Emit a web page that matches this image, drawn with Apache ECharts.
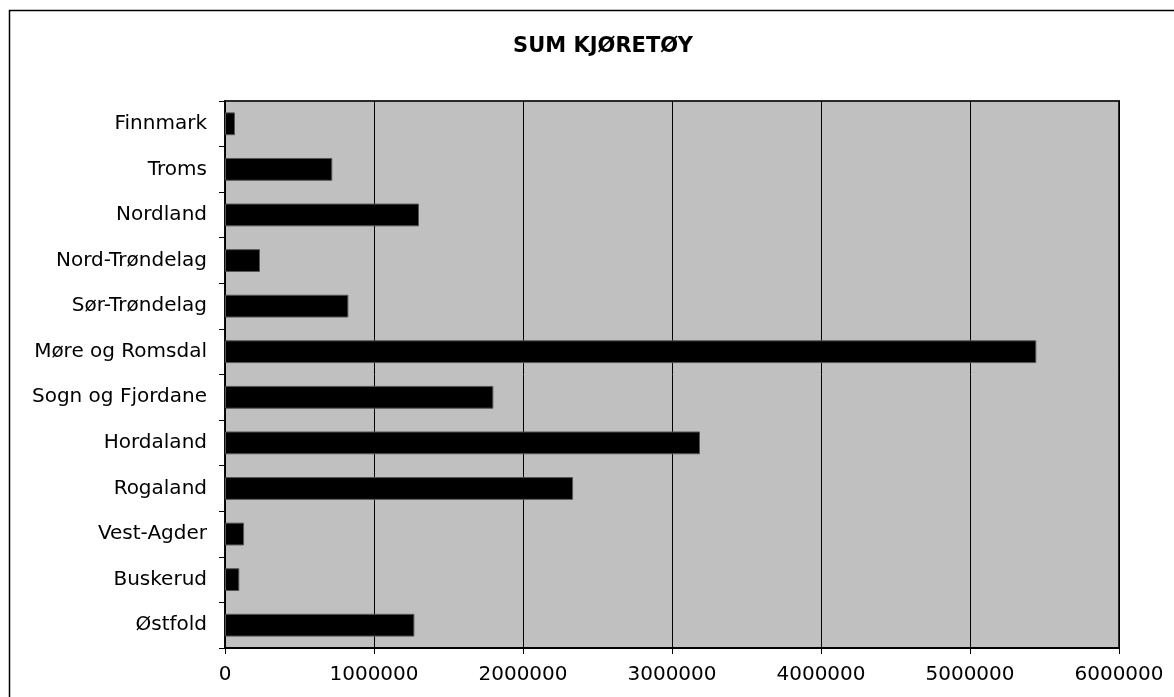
<!DOCTYPE html>
<html>
<head>
<meta charset="utf-8">
<title>SUM KJØRETØY</title>
<script src="https://cdn.jsdelivr.net/npm/echarts@6/dist/echarts.min.js"></script>
<style>
  html, body { margin: 0; padding: 0; background: #fff; }
  #echart1 { width: 1174px; height: 697px; }
</style>
</head>
<body>
<div id="echart1"></div>
<script>
// fylker, nederst først (kategoriaksen tegnes nedenfra)
var categories = ['Østfold', 'Buskerud', 'Vest-Agder', 'Rogaland', 'Hordaland', 'Sogn og Fjordane',
                  'Møre og Romsdal', 'Sør-Trøndelag', 'Nord-Trøndelag', 'Nordland', 'Troms', 'Finnmark'];
var sumKjoretoy = [1271000, 96000, 128000, 2336000, 3188000, 1801000,
                   5445000, 828000, 235000, 1302000, 720000, 67000];
var xTicks = [0, 1000000, 2000000, 3000000, 4000000, 5000000, 6000000];

echarts_1();

function echarts_1() {
    var myChart = echarts.init(document.getElementById('echart1'));

    var option = {
        animation: false,
        backgroundColor: '#ffffff',
        title: {
            text: 'SUM KJØRETØY',
            left: 598,
            top: 31,
            textAlign: 'center',
            textStyle: {
                fontFamily: 'DejaVu Sans',
                fontWeight: 'bold',
                fontSize: 21,
                color: '#000'
            }
        },
        // ytre ramme rundt hele diagrammet
        graphic: [{
            type: 'rect',
            shape: { x: 9.5, y: 10.5, width: 1200, height: 720 },
            style: { fill: 'none', stroke: '#000', lineWidth: 1.5 },
            z: 100
        }],
        grid: {
            left: 225,
            right: 55,
            top: 101,
            bottom: 49,
            show: true,
            backgroundColor: '#c0c0c0',
            borderColor: '#2a2a2a',
            borderWidth: 2
        },
        xAxis: {
            type: 'value',
            min: xTicks[0],
            max: xTicks[xTicks.length - 1],
            interval: xTicks[1] - xTicks[0],
            axisLine: {
                show: true,
                lineStyle: { color: '#000', width: 2 }
            },
            axisTick: {
                show: true,
                length: 6,
                lineStyle: { color: '#000' }
            },
            axisLabel: {
                margin: 17,
                color: '#000',
                fontFamily: 'DejaVu Sans',
                fontSize: 20,
                // ingen tusenskilletegn
                formatter: function (v) {
                    return String(v);
                }
            },
            splitLine: {
                show: true,
                lineStyle: { color: '#000', width: 1 }
            }
        },
        yAxis: {
            type: 'category',
            data: categories,
            axisLine: {
                show: true,
                lineStyle: { color: '#000', width: 1.5 }
            },
            axisTick: {
                show: true,
                length: 6,
                lineStyle: { color: '#000' }
            },
            axisLabel: {
                margin: 18,
                color: '#000',
                fontFamily: 'DejaVu Sans',
                fontSize: 20
            },
            splitLine: { show: false }
        },
        series: [{
            type: 'bar',
            data: sumKjoretoy,
            barWidth: '50%',
            itemStyle: {
                color: '#000',
                borderColor: '#555',
                borderWidth: 1
            }
        }]
    };

    myChart.setOption(option);
    window.addEventListener("resize", function () {
        myChart.resize();
    });
}
</script>
</body>
</html>
